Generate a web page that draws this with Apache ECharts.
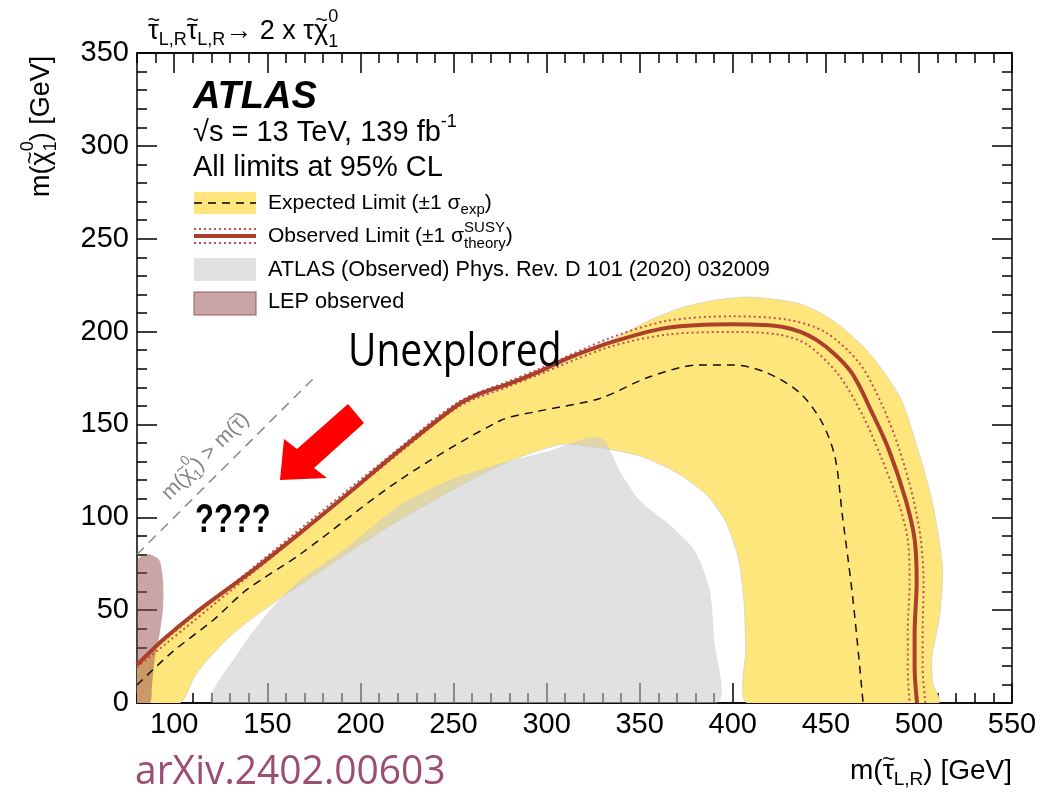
<!DOCTYPE html>
<html>
<head>
<meta charset="utf-8">
<script src="https://cdn.jsdelivr.net/npm/echarts@6/dist/echarts.min.js"></script>
<style>
html,body{margin:0;padding:0;background:#fff}
#chart{width:1042px;height:794px}
</style>
</head>
<body>
<div id="chart"></div>
<script>
// Axis ticks (GeV)
const xTicks = [100, 150, 200, 250, 300, 350, 400, 450, 500, 550];
const yTicks = [0, 50, 100, 150, 200, 250, 300, 350];

// Observed limit [m(stau), m(chi10)]
const observedLimit = [
  [80, 20.5], [94, 34], [112, 49], [141, 70.5], [167.5, 91.5], [194.4, 113.6], [221, 136],
  [253, 161], [264, 166.5], [280, 172], [295, 178], [310, 185], [334, 194], [364.6, 202],
  [400, 204], [427, 202.5], [445, 195.5], [463, 179], [475, 156], [484, 136], [493, 109],
  [497.7, 88], [498.8, 65], [497.7, 38], [497.7, 19], [499, 0]
];
// Observed limit, +1 sigma theory
const observedUp = [
  [80, 21.8], [141, 71.8], [221, 137.3], [253, 162.3], [280, 173.4], [295, 179.5], [334, 196.5],
  [365, 205.8], [400, 208.2], [430, 206.3], [450, 199.5], [468, 183], [480, 161], [489, 138],
  [497, 110], [501, 88], [502.5, 65], [502, 38], [502, 19], [503.5, 0]
];
// Observed limit, -1 sigma theory
const observedDown = [
  [80, 19.2], [141, 69.2], [221, 134.7], [253, 159.7], [280, 170.6], [295, 176.5], [334, 191.8],
  [365, 198.4], [400, 199.8], [425, 198.3], [440, 193], [457, 176.5], [470, 154.5], [479, 134],
  [489, 108], [494, 88], [495, 65], [494, 38], [494, 19], [495, 0]
];
// Expected limit
const expectedLimit = [
  [80, 9.7], [99, 27.5], [121, 44.7], [139, 61], [167.5, 80], [221, 120], [275, 152], [295, 157],
  [328.6, 164], [355, 175.5], [382, 182], [400, 182], [418, 178], [436, 167], [448, 151],
  [455, 132], [459, 100], [462, 77], [464.6, 55.5], [467, 32], [469, 11], [470, 0]
];
// Expected +-1 sigma band outline (outer edge, then inner edge back to the start)
const expectedBand = [
  [80, 0], [80, 21], [141, 70], [221, 135], [253, 160], [280, 171], [295, 177], [334, 195],
  [355, 206], [373, 213], [391, 217], [409, 218.6], [436, 215], [453.7, 206], [472, 190],
  [489.7, 165], [499, 138], [507, 109], [512.7, 73], [511, 46], [507, 25], [507.4, 11],
  [510.5, 0], [408, 0], [407, 30], [406, 55], [403, 78], [396, 98], [386, 112], [370, 124],
  [350, 133], [325, 138], [307, 139], [275, 128], [221, 98.5], [167.5, 63.5], [140.7, 44.7],
  [128, 34], [112, 16], [103, 0]
];
// ATLAS (Observed) Phys. Rev. D 101 (2020) 032009
const atlasPrevious = [
  [120.8, 0], [135.3, 28.5], [151.4, 50], [167.5, 66], [194.4, 85], [221, 106.6], [248, 120],
  [275, 129], [302, 136], [323, 143], [331, 141.5], [339, 125.5], [350, 109], [366, 96],
  [379.6, 82], [387.6, 61], [390, 34], [391, 0]
];
// LEP observed
const lepRegion = [
  [80, 0], [80, 76], [82, 79], [87, 80], [92, 77], [94, 66], [94, 52], [92.3, 38],
  [89.7, 25], [88, 9], [87, 0]
];
// Kinematic boundary m(chi10) = m(stau)
const kinematicLine = [[80, 80], [175, 175]];

const FONT = '"Liberation Sans", Arial, sans-serif';
const SLIDE_FONT = '"Open Sans", "Noto Sans", sans-serif';
const xMinor = [];
for (let v = 80; v <= 550; v += 10) xMinor.push(v);

const chart = echarts.init(document.getElementById('chart'), null, { renderer: 'canvas' });

function region(name, pts, style, z) {
  return {
    type: 'custom', name, z, silent: true, clip: true,
    coordinateSystem: 'cartesian2d', xAxisIndex: 0, yAxisIndex: 0,
    data: [pts[0]],
    renderItem: (params, api) => ({
      type: 'polygon',
      shape: { points: pts.map(p => api.coord(p)), smooth: 0.25 },
      style: style
    })
  };
}
function curve(name, pts, style, z) {
  return {
    type: 'line', name, z, silent: true, data: pts, smooth: 0.3,
    showSymbol: false, symbol: 'none', clip: true,
    lineStyle: style
  };
}

// text helpers
const mctx = document.createElement('canvas').getContext('2d');
function fnt(size, w, it) { return (it ? 'italic ' : '') + (w || 'normal') + ' ' + size + 'px ' + FONT; }
function textW(t, f) { mctx.font = f; return mctx.measureText(t).width; }
// pieces: {t, s, dy, w, it, tl} or {sup, sub, s, up, down}; tl puts a tilde over the glyph
function runs(x, y, pieces, color, align) {
  const out = [];
  let total = 0;
  const widths = pieces.map(p => {
    if (p.sup !== undefined) return Math.max(textW(p.sup, fnt(p.s)), textW(p.sub, fnt(p.s)));
    return textW(p.t, fnt(p.s, p.w, p.it));
  });
  widths.forEach(w => total += w);
  let cx = align === 'right' ? x - total : x;
  pieces.forEach((p, i) => {
    if (p.sup !== undefined) {
      out.push({ type: 'text', x: cx, y: y + p.up, style: { text: p.sup, font: fnt(p.s), fill: color, textVerticalAlign: 'middle' } });
      out.push({ type: 'text', x: cx, y: y + p.down, style: { text: p.sub, font: fnt(p.s), fill: color, textVerticalAlign: 'middle' } });
    } else {
      out.push({ type: 'text', x: cx, y: y + (p.dy || 0), style: { text: p.t, font: fnt(p.s, p.w, p.it), fill: color, textVerticalAlign: 'middle' } });
      if (p.tl) {
        out.push({ type: 'text', x: cx + widths[i] / 2 + 0.5, y: y + (p.dy || 0) - p.s * 0.4,
          style: { text: '~', font: fnt(p.s * 0.8), fill: color, textAlign: 'center', textVerticalAlign: 'middle' } });
      }
    }
    cx += widths[i];
  });
  return out;
}

const graphics = [];
// process title
graphics.push(...runs(148, 32, [
  { t: 'τ', s: 27, tl: true }, { t: 'L,R', s: 18, dy: 8 },
  { t: 'τ', s: 27, tl: true }, { t: 'L,R', s: 18, dy: 8 },
  { t: '→ 2 x τ', s: 27 }, { t: 'χ', s: 27, tl: true },
  { sup: '0', sub: '1', s: 18, up: -15, down: 10 }
], '#000'));

// y axis title (rotated)
graphics.push({
  type: 'group', x: 42, y: 197, rotation: Math.PI / 2,
  children: runs(0, 0, [
    { t: 'm(', s: 27 }, { t: 'χ', s: 27, tl: true },
    { sup: '0', sub: '1', s: 18, up: -14, down: 9 },
    { t: ') [GeV]', s: 27 }
  ], '#000')
});
// x axis title
graphics.push(...runs(1012, 771, [
  { t: 'm(', s: 28 }, { t: 'τ', s: 28, tl: true }, { t: 'L,R', s: 19, dy: 9 }, { t: ') [GeV]', s: 28 }
], '#000', 'right'));

// ATLAS header block
graphics.push({ type: 'text', x: 193, y: 98, style: { text: 'ATLAS', font: fnt(38, 'bold', true), fill: '#000', textVerticalAlign: 'middle' } });
graphics.push(...runs(193, 133, [
  { t: '√s = 13 TeV, 139 fb', s: 29 }, { t: '-1', s: 18, dy: -11 }
], '#000'));
graphics.push({ type: 'text', x: 193, y: 168, style: { text: 'All limits at 95% CL', font: fnt(29), fill: '#000', textVerticalAlign: 'middle' } });

// legend
const LX = 194, LW = 62, TX = 268;
graphics.push({ type: 'rect', shape: { x: LX, y: 192, width: LW, height: 22 }, style: { fill: '#fee67c' } });
graphics.push({ type: 'line', shape: { x1: LX, y1: 203, x2: LX + LW, y2: 203 }, style: { stroke: '#000', lineWidth: 1.5, lineDash: [8, 6] } });
graphics.push(...runs(TX, 203, [
  { t: 'Expected Limit (±1 σ', s: 21 }, { t: 'exp', s: 15, dy: 7 }, { t: ')', s: 21 }
], '#000'));
graphics.push({ type: 'line', shape: { x1: LX, y1: 236, x2: LX + LW, y2: 236 }, style: { stroke: '#ab3f2b', lineWidth: 4 } });
graphics.push({ type: 'line', shape: { x1: LX, y1: 229, x2: LX + LW, y2: 229 }, style: { stroke: '#c4504a', lineWidth: 2, lineDash: [2, 3] } });
graphics.push({ type: 'line', shape: { x1: LX, y1: 243, x2: LX + LW, y2: 243 }, style: { stroke: '#c4504a', lineWidth: 2, lineDash: [2, 3] } });
graphics.push(...runs(TX, 236, [
  { t: 'Observed Limit (±1 σ', s: 21 }, { sup: 'SUSY', sub: 'theory', s: 15, up: -8, down: 8 }, { t: ')', s: 21 }
], '#000'));
graphics.push({ type: 'rect', shape: { x: LX, y: 258, width: LW, height: 23 }, style: { fill: 'rgba(200,200,200,0.55)' } });
graphics.push({ type: 'text', x: TX, y: 270, style: { text: 'ATLAS (Observed) Phys. Rev. D 101 (2020) 032009', font: fnt(21.7), fill: '#000', textVerticalAlign: 'middle' } });
graphics.push({ type: 'rect', shape: { x: LX, y: 292, width: LW, height: 23 }, style: { fill: 'rgba(150,75,75,0.5)', stroke: 'rgba(150,75,75,0.6)', lineWidth: 1.5 } });
graphics.push({ type: 'text', x: TX, y: 302, style: { text: 'LEP observed', font: fnt(21.7), fill: '#000', textVerticalAlign: 'middle' } });

// kinematic boundary label
graphics.push({
  type: 'group', x: 212, y: 450, rotation: Math.PI / 4,
  children: runs(-66, 0, [
    { t: 'm(', s: 21 }, { t: 'χ', s: 21, tl: true },
    { sup: '0', sub: '1', s: 14, up: -11, down: 8 },
    { t: ') > m(', s: 21 }, { t: 'τ', s: 21, tl: true }, { t: ')', s: 21 }
  ], '#858585')
});

// annotations
graphics.push({
  type: 'polygon', z: 100,
  shape: { points: [[280, 480], [284, 439], [297, 449], [348, 404], [364, 423], [314, 468], [327, 478]] },
  style: { fill: '#ff0000' }
});
graphics.push({ type: 'text', x: 348, y: 353, scaleY: 1.15, z: 100, style: { text: 'Unexplored', font: 'normal 39px ' + SLIDE_FONT, fill: '#000', textVerticalAlign: 'middle' } });
graphics.push({ type: 'text', x: 195, y: 521, scaleY: 1.3, z: 100, style: { text: '????', font: 'bold 31px ' + FONT, fill: '#000', textVerticalAlign: 'middle' } });
graphics.push({ type: 'text', x: 135, y: 772, scaleY: 1.05, style: { text: 'arXiv.2402.00603', font: 'normal 39px ' + SLIDE_FONT, fill: '#9b4d74', textVerticalAlign: 'middle' } });

const axisLine = { show: true, onZero: false, lineStyle: { color: '#000', width: 1.5 } };
function xAx(pos, ticks, len, labels) {
  return {
    type: 'value', min: 80, max: 550, position: pos,
    axisLine: axisLine,
    splitLine: { show: false },
    axisTick: { show: true, inside: true, length: len, customValues: ticks, lineStyle: { color: '#000', width: 1.5 } },
    axisLabel: labels ? { show: true, customValues: xTicks, color: '#000', fontFamily: FONT, fontSize: 29, margin: 7 } : { show: false }
  };
}
function yAx(pos, labels) {
  return {
    type: 'value', min: 0, max: 350, interval: 50, position: pos,
    axisLine: axisLine,
    splitLine: { show: false },
    axisTick: { show: true, inside: true, length: 20, customValues: yTicks, lineStyle: { color: '#000', width: 1.5 } },
    minorTick: { show: true, splitNumber: 5, length: 10, lineStyle: { color: '#000', width: 1.5 } },
    axisLabel: labels ? { show: true, customValues: yTicks, color: '#000', fontFamily: FONT, fontSize: 29, margin: 8 } : { show: false }
  };
}

chart.setOption({
  animation: false,
  backgroundColor: '#fff',
  grid: { left: 137, right: 30, top: 53, bottom: 91, containLabel: false },
  xAxis: [xAx('bottom', xTicks, 20, true), xAx('bottom', xMinor, 10, false), xAx('top', xTicks, 20, false), xAx('top', xMinor, 10, false)],
  yAxis: [yAx('left', true), yAx('right', false)],
  graphic: graphics,
  series: [
    region('Expected band', expectedBand, { fill: '#fee67c', stroke: 'rgba(200,200,200,0.6)', lineWidth: 1 }, 1),
    region('ATLAS previous', atlasPrevious, { fill: 'rgba(200,200,200,0.55)' }, 2),
    region('LEP', lepRegion, { fill: 'rgba(150,75,75,0.5)' }, 3),
    curve('Kinematic', kinematicLine, { color: '#8a8a8a', width: 1.5, type: [10, 7] }, 4),
    curve('Expected', expectedLimit, { color: '#111', width: 1.5, type: [8, 6] }, 5),
    curve('Observed +1', observedUp, { color: '#c4504a', width: 2, type: [2, 3] }, 6),
    curve('Observed -1', observedDown, { color: '#c4504a', width: 2, type: [2, 3] }, 6),
    curve('Observed', observedLimit, { color: '#ab3f2b', width: 4 }, 7)
  ]
});
</script>
</body>
</html>
